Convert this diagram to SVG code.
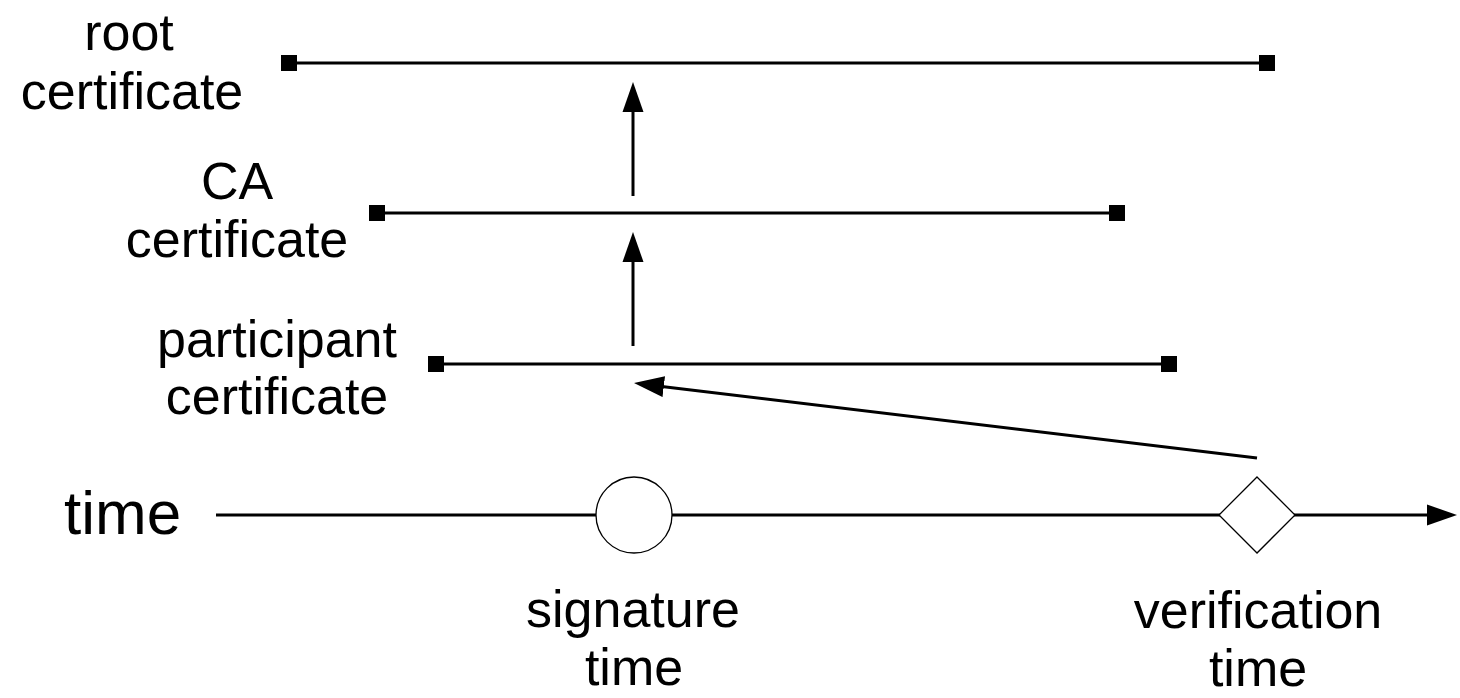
<svg xmlns="http://www.w3.org/2000/svg" width="1460" height="698" viewBox="0 0 1460 698">
  <style>
    .lbl { font-family: "Liberation Sans", Arial, sans-serif; font-size: 52px; fill: #000; text-anchor: middle; }
    .axis-lbl { font-family: "Liberation Sans", Arial, sans-serif; font-size: 62px; fill: #000; }
    .span { stroke: #000; stroke-width: 3; fill: none; }
    .end { fill: #000; }
    .conn { stroke: #000; stroke-width: 3; fill: none; marker-end: url(#head); }
    .event { fill: #fff; stroke: #000; stroke-width: 1.3; }
  </style>
  <defs>
    <marker id="head" markerUnits="userSpaceOnUse" markerWidth="31" markerHeight="22" refX="2" refY="11" orient="auto">
      <path d="M0,0.5 L30,11 L0,21.5 Z" fill="#000"/>
    </marker>
  </defs>
  <rect width="1460" height="698" fill="#fff"/>

  <!-- root certificate validity span -->
  <g id="root-certificate">
    <line class="span" x1="289" y1="63" x2="1267" y2="63"/>
    <rect class="end" x="281" y="55" width="16" height="16"/>
    <rect class="end" x="1259" y="55" width="16" height="16"/>
    <text class="lbl" x="129" y="50">root</text>
    <text class="lbl" x="132" y="109">certificate</text>
  </g>

  <!-- CA certificate validity span -->
  <g id="ca-certificate">
    <line class="span" x1="377" y1="213" x2="1117" y2="213"/>
    <rect class="end" x="369" y="205" width="16" height="16"/>
    <rect class="end" x="1109" y="205" width="16" height="16"/>
    <text class="lbl" x="237" y="199">CA</text>
    <text class="lbl" x="237" y="257">certificate</text>
  </g>

  <!-- participant certificate validity span -->
  <g id="participant-certificate">
    <line class="span" x1="436" y1="364" x2="1169" y2="364"/>
    <rect class="end" x="428" y="356" width="16" height="16"/>
    <rect class="end" x="1161" y="356" width="16" height="16"/>
    <text class="lbl" x="277" y="357">participant</text>
    <text class="lbl" x="277" y="414">certificate</text>
  </g>

  <!-- time axis -->
  <g id="time-axis">
    <line class="conn" x1="216" y1="515" x2="1429" y2="515"/>
    <text class="axis-lbl" x="64" y="534">time</text>
  </g>

  <!-- signature event -->
  <g id="signature-time">
    <circle class="event" cx="634" cy="515" r="38"/>
    <text class="lbl" x="633" y="627">signature</text>
    <text class="lbl" x="634" y="685">time</text>
  </g>

  <!-- verification event -->
  <g id="verification-time">
    <polygon class="event" points="1257,477 1295,515 1257,553 1219,515"/>
    <text class="lbl" x="1258" y="628">verification</text>
    <text class="lbl" x="1258" y="686">time</text>
  </g>

  <!-- chain links -->
  <g id="connectors">
    <line class="conn" x1="633" y1="196" x2="633" y2="110"/>
    <line class="conn" x1="633" y1="346" x2="633" y2="260"/>
    <line class="conn" x1="1257" y1="458" x2="661.8" y2="386.4"/>
  </g>
</svg>
